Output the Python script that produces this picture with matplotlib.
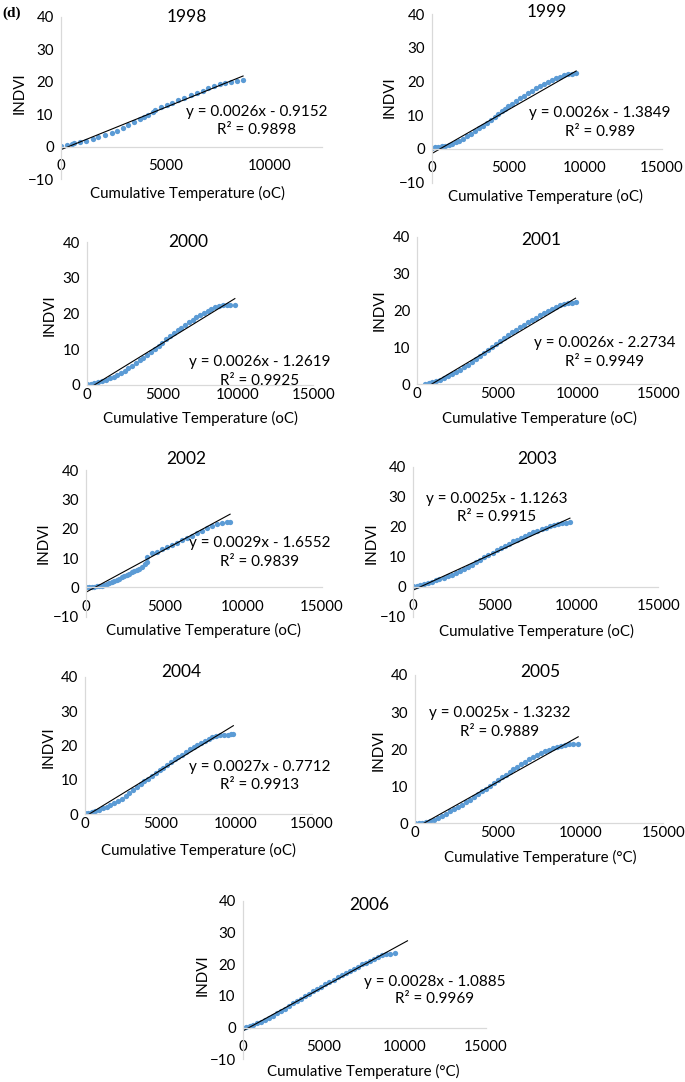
import matplotlib
matplotlib.use("Agg")
import matplotlib.pyplot as plt

W, H = 685, 1082

years = ["1998", "1999", "2000", "2001", "2002", "2003", "2004", "2005", "2006"]
slopes = [0.0026, 0.0026, 0.0026, 0.0026, 0.0029, 0.0025, 0.0027, 0.0025, 0.0028]
intercepts = [-0.9152, -1.3849, -1.2619, -2.2734, -1.6552, -1.1263, -0.7712, -1.3232, -1.0885]
r2 = ["0.9898", "0.989", "0.9925", "0.9949", "0.9839", "0.9915", "0.9913", "0.9889", "0.9969"]
trend_forward = [0, 0, 0, 0, 0, 0, 0, 0, 760]

# valores (temperatura acumulada, INDVI acumulado)
x_1998 = [15, 287, 526, 635, 922, 1209, 1529, 1797, 2117, 2437, 2676, 2962, 3232, 3518,
          3789, 3997, 4188, 4396, 4506, 4778, 5064, 5333, 5620, 5907, 6211, 6498, 6785,
          7052, 7325, 7611, 7883, 8170, 8438, 8724]
y_1998 = [0.3, 0.6, 0.9, 1.1, 1.5, 1.9, 2.5, 3.0, 3.6, 4.3, 5.0, 5.8, 6.6, 7.5,
          8.4, 9.2, 9.9, 10.8, 11.4, 12.1, 12.8, 13.5, 14.3, 15.0, 15.8, 16.5, 17.3,
          18.0, 18.7, 19.2, 19.6, 20.0, 20.3, 20.5]

x_1999 = [0, 200, 420, 650, 880, 1100, 1330, 1560, 1800, 2050, 2300, 2560, 2820, 3080,
          3340, 3600, 3850, 4100, 4350, 4600, 4750, 5000, 5260, 5520, 5780, 6040, 6300,
          6560, 6820, 7080, 7340, 7600, 7860, 8120, 8380, 8640, 8900, 9160, 9420]
y_1999 = [0.4, 0.5, 0.6, 0.8, 1.0, 1.3, 1.6, 2.0, 2.5, 3.1, 3.8, 4.5, 5.3, 6.1,
          6.9, 7.7, 8.6, 9.4, 10.3, 11.2, 11.8, 12.6, 13.4, 14.3, 15.1, 15.8, 16.6,
          17.3, 18.0, 18.7, 19.3, 19.9, 20.5, 21.0, 21.4, 21.8, 22.1, 22.3, 22.4]

x_2000 = [0, 240, 490, 760, 1010, 1250, 1500, 1760, 2000, 2240, 2510, 2750, 3000, 3260,
          3500, 3740, 4010, 4250, 4500, 4760, 5000, 5240, 5510, 5750, 6000, 6260, 6500,
          6740, 7010, 7250, 7500, 7760, 8000, 8240, 8510, 8750, 9000, 9260, 9500, 9800]
y_2000 = [0.3, 0.4, 0.6, 0.9, 1.2, 1.5, 1.9, 2.3, 2.8, 3.4, 4.0, 4.7, 5.4, 6.1,
          6.9, 7.7, 8.5, 9.3, 10.2, 11.0, 11.9, 12.8, 13.6, 14.5, 15.3, 16.1, 16.9,
          17.6, 18.3, 19.0, 19.6, 20.2, 20.8, 21.3, 21.8, 22.1, 22.3, 22.4, 22.4, 22.3]

x_2001 = [480, 700, 930, 1170, 1410, 1650, 1900, 2150, 2400, 2650, 2900, 3150, 3400,
          3650, 3900, 4150, 4400, 4650, 4900, 5150, 5400, 5650, 5900, 6150, 6400, 6650,
          6900, 7150, 7400, 7650, 7900, 8150, 8400, 8650, 8900, 9150, 9400, 9650, 9850]
y_2001 = [0.1, 0.3, 0.6, 0.9, 1.3, 1.7, 2.2, 2.8, 3.4, 4.0, 4.6, 5.3, 6.0,
          6.8, 7.6, 8.4, 9.2, 10.0, 10.8, 11.6, 12.5, 13.3, 14.1, 14.8, 15.5, 16.2,
          16.9, 17.5, 18.1, 18.7, 19.3, 19.9, 20.5, 21.0, 21.5, 21.8, 22.0, 22.1, 22.2]

x_2002 = [0, 180, 361, 520, 679, 840, 998, 1160, 1316, 1475, 1635, 1795, 1953, 2110,
          2272, 2430, 2590, 2750, 2909, 3070, 3227, 3390, 3546, 3758, 3866, 3900, 4183,
          4501, 4820, 5138, 5456, 5775, 6093, 6412, 6730, 7049, 7367, 7686, 8004, 8323,
          8641, 8960, 9170]
y_2002 = [0.0, 0.0, 0.0, 0.1, 0.3, 0.4, 0.5, 0.7, 1.0, 1.4, 1.8, 2.1, 2.5, 3.0,
          3.4, 3.8, 4.2, 4.6, 5.1, 5.5, 5.9, 6.4, 7.0, 7.9, 8.7, 10.5, 11.7,
          12.2, 13.0, 13.7, 14.5, 15.1, 16.0, 16.8, 17.6, 18.5, 19.3, 20.2, 21.0, 21.7,
          22.1, 22.4, 22.4]

x_2003 = [0, 200, 420, 650, 880, 1120, 1360, 1600, 1850, 2100, 2350, 2600, 2850, 3100,
          3350, 3600, 3850, 4100, 4350, 4600, 4850, 5100, 5350, 5600, 5850, 6100, 6350,
          6600, 6850, 7100, 7350, 7600, 7850, 8100, 8350, 8600, 8850, 9100, 9350, 9590]
y_2003 = [0.1, 0.3, 0.6, 0.9, 1.3, 1.7, 2.1, 2.6, 3.0, 3.5, 4.0, 4.6, 5.2, 5.9,
          6.6, 7.4, 8.2, 9.0, 9.8, 10.6, 11.4, 12.2, 13.0, 13.7, 14.4, 15.1, 15.7,
          16.3, 16.9, 17.5, 18.1, 18.7, 19.2, 19.7, 20.1, 20.5, 20.8, 21.1, 21.3, 21.5]

x_2004 = [0, 220, 450, 690, 930, 1180, 1430, 1680, 1930, 2180, 2430, 2680, 2930, 3180,
          3430, 3680, 3930, 4180, 4430, 4680, 4930, 5180, 5430, 5680, 5930, 6180, 6430,
          6680, 6930, 7180, 7430, 7680, 7930, 8180, 8430, 8680, 8930, 9180, 9430, 9680,
          9815]
y_2004 = [0.2, 0.4, 0.7, 1.0, 1.3, 1.7, 2.1, 2.6, 3.2, 3.8, 4.5, 5.3, 6.1, 6.9,
          7.8, 8.6, 9.5, 10.3, 11.1, 11.9, 12.7, 13.5, 14.3, 15.1, 15.9, 16.6, 17.3,
          18.0, 18.8, 19.5, 20.2, 20.8, 21.4, 21.9, 22.3, 22.7, 22.9, 23.0, 23.1, 23.2,
          23.2]

x_2005 = [0, 220, 450, 680, 910, 1150, 1390, 1630, 1870, 2110, 2350, 2590, 2830, 3070,
          3310, 3550, 3790, 4030, 4270, 4510, 4750, 4990, 5230, 5470, 5710, 5950, 6190,
          6430, 6670, 6910, 7150, 7390, 7630, 7870, 8110, 8350, 8590, 8830, 9070, 9310,
          9550, 9860]
y_2005 = [0.0, 0.0, 0.1, 0.3, 0.6, 1.0, 1.5, 2.0, 2.6, 3.2, 3.8, 4.4, 5.0, 5.7,
          6.4, 7.1, 7.8, 8.6, 9.3, 10.1, 10.8, 11.6, 12.4, 13.1, 13.8, 14.6, 15.3,
          16.0, 16.6, 17.3, 17.9, 18.5, 19.0, 19.5, 19.9, 20.3, 20.6, 20.9, 21.2, 21.3,
          21.4, 21.3]

x_2006 = [0, 200, 420, 650, 880, 1120, 1360, 1600, 1850, 2100, 2350, 2600, 2850, 3100,
          3350, 3600, 3850, 4100, 4350, 4600, 4850, 5100, 5350, 5600, 5850, 6100, 6350,
          6600, 6850, 7100, 7350, 7600, 7850, 8100, 8350, 8600, 8850, 9100, 9400]
y_2006 = [0.0, 0.2, 0.5, 0.9, 1.4, 1.9, 2.5, 3.1, 3.8, 4.5, 5.3, 6.0, 6.8, 7.6,
          8.3, 9.1, 9.9, 10.7, 11.5, 12.2, 12.9, 13.7, 14.4, 15.1, 15.8, 16.5, 17.2,
          17.9, 18.5, 19.2, 19.9, 20.5, 21.1, 21.7, 22.3, 22.8, 23.1, 23.3, 23.4]

xs = [x_1998, x_1999, x_2000, x_2001, x_2002, x_2003, x_2004, x_2005, x_2006]
ys = [y_1998, y_1999, y_2000, y_2001, y_2002, y_2003, y_2004, y_2005, y_2006]

ymins = [-10, -10, 0, 0, -10, -10, 0, 0, -10]
xmaxs = [12500, 15000, 15000, 15000, 15000, 15000, 15000, 15000, 15000]
unidad = ["oC"] * 7 + ["°C"] * 2

# layout en pixeles: izquierda, derecha, arriba (y=40), abajo (ymin)
cajas = [(60.7, 322, 16.7, 179.3), (431.7, 661.7, 14, 182.7),
         (87, 313.3, 242.3, 385), (417.3, 658.3, 236.7, 384.3),
         (86, 321.7, 470, 616.7), (413.3, 658.3, 466.7, 616.7),
         (85, 311.7, 676.7, 814), (415, 663.3, 675, 823.3),
         (242.7, 486, 900.7, 1059.3)]
pos_titulo = [(187, 17), (546.7, 12), (188.3, 242), (541.7, 240), (186, 459.5),
              (537.3, 459.5), (181.7, 672), (540, 672), (369.3, 905)]
pos_ecuacion = [(257, 112), (600, 113.3), (260, 361.7), (605, 342.7), (259.3, 542.7),
                (496.7, 499), (259.3, 766.7), (499.3, 713.3), (435, 981.7)]
pos_r2 = [(257, 130), (600, 131.7), (259.3, 381), (605, 361.7), (259.3, 561.7),
          (496.7, 517.3), (259.3, 785), (499.3, 731.7), (435, 999.3)]
pos_ylabel = [(20, 93), (390, 96.7), (49.3, 315), (380, 310), (43.3, 543.3),
              (371.7, 543.3), (48.3, 746.7), (378.3, 750), (203, 975)]
pos_xlabel = [(187, 193), (545, 196.7), (200, 418), (539, 418), (203.3, 630),
              (536.7, 631.7), (198.3, 850), (540, 857.5), (363.3, 1071.7)]

plt.rcParams["font.family"] = ["Lato", "DejaVu Sans"]
AZUL = "#5B9BD5"
GRIS = "#D9D9D9"

fig = plt.figure(figsize=(W / 100, H / 100), dpi=100)


def fpos(px, py):
    return px / W, 1 - py / H


for i, anio in enumerate(years):
    izq, der, arr, aba = cajas[i]
    ax = fig.add_axes([izq / W, 1 - aba / H, (der - izq) / W, (aba - arr) / H])

    ax.plot(xs[i], ys[i], "o", color=AZUL, markersize=3.8, markeredgewidth=0)
    x0 = min(xs[i])
    x1 = max(xs[i]) + trend_forward[i]
    ax.plot([x0, x1], [slopes[i] * x0 + intercepts[i], slopes[i] * x1 + intercepts[i]],
            color="black", linewidth=0.8)

    ax.set_xlim(0, xmaxs[i])
    ax.set_ylim(ymins[i], 40)
    ax.set_xticks(range(0, xmaxs[i] + 1, 5000))
    ax.set_yticks(range(ymins[i], 41, 10))

    for lado in ["top", "right"]:
        ax.spines[lado].set_visible(False)
    for lado in ["left", "bottom"]:
        ax.spines[lado].set_color(GRIS)
        ax.spines[lado].set_linewidth(0.9)
    ax.spines["bottom"].set_position(("data", 0))
    ax.patch.set_alpha(0)

    pad_x = 9 if ymins[i] < 0 else 2
    ax.tick_params(axis="x", length=0, pad=pad_x, labelsize=10.8, colors="black")
    ax.tick_params(axis="y", length=0, pad=5, labelsize=10.8, colors="black")

    tx, ty = fpos(*pos_titulo[i])
    fig.text(tx, ty, anio, ha="center", va="center", fontsize=12.5)

    ex, ey = fpos(*pos_ecuacion[i])
    fig.text(ex, ey, f"y = {slopes[i]}x - {abs(intercepts[i])}", ha="center",
             va="center", fontsize=11)
    rx, ry = fpos(*pos_r2[i])
    fig.text(rx, ry, f"R² = {r2[i]}", ha="center", va="center", fontsize=11)

    lx, ly = fpos(*pos_ylabel[i])
    fig.text(lx, ly, "INDVI", rotation=90, ha="center", va="center", fontsize=10.8)

    bx, by = fpos(*pos_xlabel[i])
    fig.text(bx, by, f"Cumulative Temperature ({unidad[i]})", ha="center",
             va="center", fontsize=10.8)

fig.text(12 / W, 1 - 13 / H, "(d)", fontfamily="Liberation Serif", fontweight="bold",
         fontsize=11, ha="center", va="center")

fig.savefig("out.png", dpi=100)
